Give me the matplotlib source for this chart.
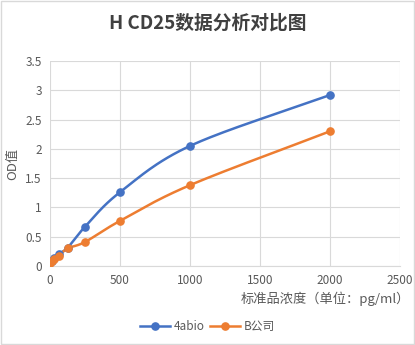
import numpy as np
import matplotlib.pyplot as plt
from matplotlib.patches import Rectangle

plt.rcParams['font.family'] = ['Noto Sans CJK SC', 'DejaVu Sans']

# 标准品浓度 (pg/ml) 与 OD 值
conc = [0, 15.625, 31.25, 62.5, 125, 250, 500, 1000, 2000]
od_4abio = [0.06, 0.09, 0.13, 0.21, 0.31, 0.67, 1.26, 2.05, 2.92]
od_b = [0.05, 0.08, 0.12, 0.17, 0.30, 0.41, 0.77, 1.38, 2.30]

BLUE = '#4472C4'
ORANGE = '#ED7D31'
GREY = '#595959'


def smooth(x, y, n=30):
    # Catmull-Rom 平滑曲线（类似 Excel 平滑线）
    x = np.asarray(x, float)
    y = np.asarray(y, float)
    px = np.concatenate([[2 * x[0] - x[1]], x, [2 * x[-1] - x[-2]]])
    py = np.concatenate([[2 * y[0] - y[1]], y, [2 * y[-1] - y[-2]]])
    xs, ys = [], []
    t = np.linspace(0, 1, n)
    for i in range(1, len(px) - 2):
        p0, p1, p2, p3 = [np.array([px[j], py[j]]) for j in range(i - 1, i + 3)]
        c1 = p1 + (p2 - p0) / 6
        c2 = p2 - (p3 - p1) / 6
        pts = ((1 - t) ** 3)[:, None] * p1 + (3 * (1 - t) ** 2 * t)[:, None] * c1 \
            + (3 * (1 - t) * t ** 2)[:, None] * c2 + (t ** 3)[:, None] * p2
        xs.extend(pts[:, 0])
        ys.extend(pts[:, 1])
    return xs, ys


fig = plt.figure(figsize=(4.15, 3.45), dpi=100)
ax = fig.add_axes([50 / 415, 79 / 345, 350 / 415, 205 / 345])

for y, c, name in [(od_4abio, BLUE, '4abio'), (od_b, ORANGE, 'B公司')]:
    sx, sy = smooth(conc, y)
    ax.plot(sx, sy, color=c, lw=1.8, zorder=3)
    ax.plot(conc, y, 'o', color=c, ms=5.2, zorder=4)
    ax.plot([], [], '-o', color=c, lw=1.8, ms=5.2, label=name)

ax.set_xlim(0, 2500)
ax.set_ylim(0, 3.5)
ax.set_xticks(range(0, 2501, 500))
ax.set_yticks(np.arange(0, 3.51, 0.5))
ax.set_yticklabels(['0', '0.5', '1', '1.5', '2', '2.5', '3', '3.5'])
ax.grid(True, color='#D9D9D9', lw=0.8)
ax.set_axisbelow(True)
for s in ax.spines.values():
    s.set_visible(False)
ax.spines['bottom'].set_visible(True)
ax.spines['bottom'].set_color('#D9D9D9')
ax.tick_params(length=0, colors=GREY, labelsize=8.5, pad=6)

ax.set_xlabel('标准品浓度（单位：pg/ml）', color=GREY, fontsize=9.5, loc='right')
ax.xaxis.set_label_coords(1.03, -0.125, transform=ax.transAxes)
ax.set_ylabel('OD值', color=GREY, fontsize=9.5, labelpad=4)

fig.suptitle('H CD25数据分析对比图', x=0.5, y=0.96, fontsize=13.5, fontweight='bold', color='#404040')

fig.legend(loc='lower center', bbox_to_anchor=(0.5, 0.005), ncol=2, frameon=False,
           fontsize=8.5, labelcolor=GREY, handlelength=2.5, columnspacing=0.5, handletextpad=0.3)

fig.patches.append(Rectangle((0.002, 0.002), 0.996, 0.996, transform=fig.transFigure,
                             fill=False, edgecolor='#D9D9D9', lw=1))

fig.savefig('out.png', dpi=100)
